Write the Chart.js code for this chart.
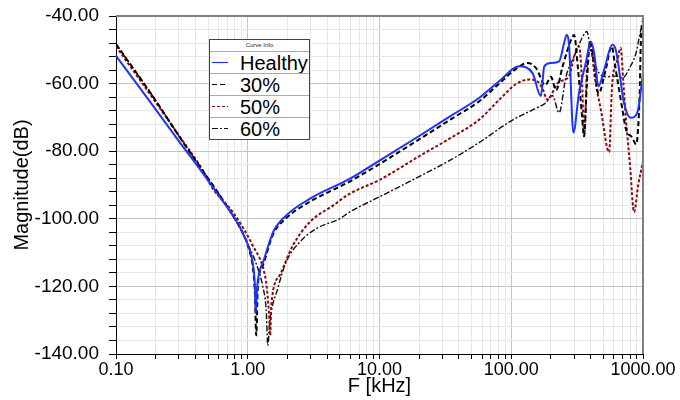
<!DOCTYPE html>
<html>
<head>
<meta charset="utf-8">
<script src="https://cdn.jsdelivr.net/npm/chart.js@4"></script>
<style>
    body { margin: 0; background: #fff; }
    #wrap { position: relative; width: 680px; height: 400px; }
    #legend {
        position: absolute; left: 209px; top: 39px; width: 99px;
        border: 1px solid #444; background: #fff;
        font-family: "Liberation Sans", Arial, sans-serif;
    }
    #legend .title { height: 11px; font-size: 6px; line-height: 11px; text-align: center; color: #223; }
    #legend .row { height: 21px; border-top: 1px solid #aaa; position: relative; }
    #legend svg { position: absolute; left: 2px; top: 9px; }
    #legend .name { position: absolute; left: 30px; top: 0; font-size: 20px; line-height: 22px; color: #000; }
</style>
</head>
<body>
<div id="wrap">
    <canvas id="line-chart" width="680" height="400"></canvas>
    <div id="legend"><div class="title">Curve Info</div></div>
</div>
<script>
// frequencies in kHz, magnitude in dB
const healthyF = [0.1, 0.2, 0.3, 0.45, 0.6, 0.77, 0.9, 1.03, 1.09, 1.13, 1.15, 1.18, 1.22, 1.31, 1.56, 1.96, 2.95, 5.93, 10, 20, 35, 57.3, 81, 115, 145, 168, 178, 200, 231, 252, 263, 275, 296, 327, 368, 402, 426, 459, 507, 585, 621, 718, 807, 906, 1000];
const healthyDb = [-51.8, -67.6, -77, -86.2, -93, -99, -103.5, -109, -113, -119, -128, -120, -116, -112.7, -103.9, -99, -94.1, -88.2, -82.8, -75.5, -69.5, -64.2, -59.3, -54.9, -56.9, -63.7, -54.9, -53.9, -53.4, -48, -45.6, -49, -74.5, -62.7, -53.9, -47.6, -51, -60.8, -55.9, -48.5, -50, -65.7, -70.1, -68.6, -57];

const thirtyF = [0.1, 0.2, 0.3, 0.45, 0.6, 0.77, 0.9, 1.03, 1.09, 1.13, 1.16, 1.19, 1.23, 1.31, 1.56, 1.96, 2.95, 5.93, 10, 20, 35, 57.3, 81, 110, 133, 155, 181, 200, 219, 245, 285, 300, 320, 345, 357, 375, 396, 420, 460, 520, 580, 610, 700, 743, 830, 885, 940, 966, 1000];
const thirtyDb = [-48.3, -65, -75.5, -85.5, -92.5, -99, -103.5, -109.5, -114, -121, -134.5, -121, -116, -113.5, -104.5, -99.8, -95, -89, -83.8, -76.5, -70.5, -65.2, -60, -55.5, -53.9, -55.5, -60.5, -58, -62, -55, -47, -45.6, -55, -70, -75.6, -60, -47.5, -52, -63, -56, -49, -54, -68, -73.5, -76, -78, -65, -46, -41];

const fiftyF = [0.1, 0.2, 0.3, 0.45, 0.546, 0.77, 1.09, 1.35, 1.4, 1.46, 1.48, 1.51, 1.75, 2.2, 2.95, 4.43, 5.93, 10, 20, 35, 57.3, 80, 110, 137, 160, 175, 187, 230, 275, 300, 327, 345, 357, 380, 402, 430, 480, 553, 582, 640, 677, 710, 743, 800, 855, 920, 1000];
const fiftyDb = [-49, -65.5, -75.3, -85.3, -91.2, -98, -107.9, -116.7, -121, -130, -134.5, -125.5, -116.7, -107.9, -101, -96.1, -92.6, -88.5, -81.5, -76, -70.6, -65, -60, -58.8, -59.5, -62, -64.7, -59.5, -57.8, -52, -49, -60, -75.5, -52, -49, -58, -68, -80.3, -60.8, -53, -49.5, -60, -70.6, -85, -98, -90, -83];

const sixtyF = [0.1, 0.2, 0.3, 0.45, 0.6, 0.77, 1.03, 1.2, 1.3, 1.38, 1.42, 1.47, 1.69, 1.96, 2.48, 3.31, 4.98, 5.93, 10, 20, 35, 57.3, 100, 150, 183, 205, 231, 260, 300, 350, 375, 400, 450, 520, 621, 700, 800, 885, 966, 1000];
const sixtyDb = [-48.3, -65, -75.5, -85.5, -92.5, -99, -108.5, -115, -120, -127, -137.5, -130.4, -120.6, -112.7, -106.9, -102.9, -100, -98, -93.5, -87.5, -82.5, -77.4, -71, -67.5, -65.7, -63.5, -68.6, -58, -52, -46, -44.6, -50, -56, -58, -57.8, -58.3, -55, -51, -44, -43];

const seriesNames = ['Healthy', '30%', '50%', '60%'];
const decadeLabels = [0.1, 1, 10, 100, 1000];

const FONT = '"Liberation Sans", Arial, sans-serif';

const styles = [
    { color: '#1f33f5', dash: [], width: 2 },
    { color: '#000000', dash: [5, 3], width: 2 },
    { color: '#8b0a0a', dash: [3, 2], width: 2 },
    { color: '#111111', dash: [6, 2, 2, 2], width: 1.4 },
];

const toPoints = (f, db) => f.map((x, i) => ({ x: x, y: db[i] }));

const isDecade = v => Math.abs(Math.log10(v) - Math.round(Math.log10(v))) < 1e-6;

// 1..9 x 10^n ticks for the log axis
const xTicks = [];
for (let e = -1; e < 3; e++) {
    for (let s = 1; s < 10; s++) {
        xTicks.push(+(s * Math.pow(10, e)).toPrecision(3));
    }
}
xTicks.push(1000);

const frame = {
    id: 'frame',
    afterDatasetsDraw(chart) {
        const { ctx, chartArea: a } = chart;
        ctx.save();
        ctx.strokeStyle = '#808080';
        ctx.lineWidth = 2;
        ctx.beginPath();
        ctx.moveTo(a.left, a.top);
        ctx.lineTo(a.right, a.top);
        ctx.lineTo(a.right, a.bottom);
        ctx.stroke();
        ctx.restore();
    }
};

const data = [toPoints(healthyF, healthyDb), toPoints(thirtyF, thirtyDb), toPoints(fiftyF, fiftyDb), toPoints(sixtyF, sixtyDb)];

window.chart = new Chart(document.getElementById('line-chart'), {
    type: 'line',
    data: {
        datasets: data.map((d, i) => ({
            label: seriesNames[i],
            data: d,
            borderColor: styles[i].color,
            borderDash: styles[i].dash,
            borderWidth: styles[i].width,
            pointRadius: 0,
            fill: false,
            cubicInterpolationMode: 'monotone',
            order: i === 0 ? 0 : 1,
        })),
    },
    options: {
        responsive: false,
        animation: false,
        layout: { padding: { top: 16, right: 37, left: 0, bottom: 0 } },
        plugins: { legend: { display: false }, tooltip: { enabled: false } },
        scales: {
            x: {
                type: 'logarithmic',
                min: 0.1,
                max: 1000,
                afterBuildTicks: axis => { axis.ticks = xTicks.map(v => ({ value: v })); },
                afterFit: axis => { axis.height = 46; },
                border: { color: '#000', width: 1 },
                grid: {
                    color: c => (c.tick && isDecade(c.tick.value) ? '#c4c4c4' : '#e6e6e6'),
                    tickColor: '#000',
                    tickLength: 5,
                },
                ticks: {
                    autoSkip: false,
                    maxRotation: 0,
                    padding: 0,
                    color: '#000',
                    font: { family: FONT, size: 18 },
                    callback: v => (decadeLabels.some(d => Math.abs(d - v) < 1e-9) ? Number(v).toFixed(2) : ''),
                },
                title: {
                    display: true,
                    text: 'F [kHz]',
                    color: '#000',
                    font: { family: FONT, size: 20 },
                    padding: { top: 0, bottom: 2 },
                },
            },
            y: {
                min: -140,
                max: -40,
                afterFit: axis => {
                    axis.width = 116;
                    axis.paddingTop = 0;
                    axis.paddingBottom = 0;
                },
                border: { color: '#000', width: 1 },
                grid: {
                    color: c => (c.tick && c.tick.value % 20 === 0 ? '#c4c4c4' : '#e6e6e6'),
                    tickColor: '#000',
                    tickLength: 7,
                },
                ticks: {
                    stepSize: 4,
                    autoSkip: false,
                    padding: 10,
                    color: '#000',
                    font: { family: FONT, size: 19 },
                    callback: v => (v % 20 === 0 ? v.toFixed(2) : ''),
                },
                title: {
                    display: true,
                    text: 'Magnitude(dB)',
                    color: '#000',
                    font: { family: FONT, size: 20 },
                    padding: { top: 10, bottom: 0 },
                },
            },
        },
    },
    plugins: [frame],
});

// boxed legend like the original
const legend = document.getElementById('legend');
seriesNames.forEach((name, i) => {
    const row = document.createElement('div');
    row.className = 'row';
    const dash = styles[i].dash.length ? styles[i].dash.join(' ') : 'none';
    row.innerHTML = '<svg width="16" height="3"><line x1="0" y1="1.5" x2="16" y2="1.5" stroke="' +
        styles[i].color + '" stroke-width="1.2" stroke-dasharray="' + dash + '"/></svg>';
    const label = document.createElement('span');
    label.className = 'name';
    label.textContent = name;
    row.append(label);
    legend.append(row);
});
</script>
</body>
</html>
